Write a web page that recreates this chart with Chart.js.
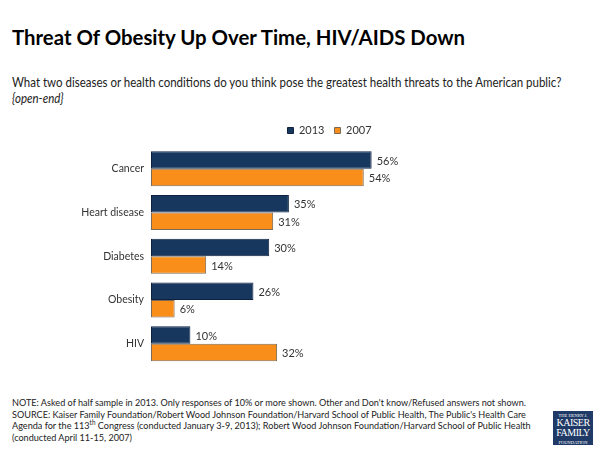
<!DOCTYPE html>
<html>
<head>
<meta charset="utf-8">
<script src="https://cdn.jsdelivr.net/npm/chart.js@4/dist/chart.umd.min.js"></script>
<style>
	body { margin: 0; width: 600px; height: 450px; background: #fff; position: relative; overflow: hidden;
		font-family: "Lato", sans-serif; color: #222; }
	#title { position: absolute; left: 12px; top: 24px; font-size: 21px; font-weight: bold; color: #000; white-space: nowrap;
		transform: scaleX(0.97); transform-origin: left top; }
	#sub { position: absolute; left: 12px; top: 75px; font-size: 12.5px; line-height: 16px; color: #222; white-space: nowrap;
		transform: scaleX(0.92); transform-origin: left top; }
	#note { position: absolute; left: 12px; top: 397px; font-size: 10px; line-height: 11.5px; color: #222; white-space: nowrap;
		transform: scaleX(0.91); transform-origin: left top; }
	#chartBox { position: absolute; left: 0; top: 115px; width: 600px; height: 264px; }
	#logo { position: absolute; left: 553px; top: 411px; width: 40px; height: 34px; background: #1f3a66; color: #fff;
		font-family: "Liberation Serif", serif; text-align: center; }
	#logo .s { font-size: 4.5px; line-height: 5px; padding-top: 2px; }
	#logo .b { font-size: 10px; line-height: 10px; letter-spacing: -0.5px; }
</style>
</head>
<body>
<div id="title">Threat Of Obesity Up Over Time, HIV/AIDS Down</div>
<div id="sub">What two diseases or health conditions do you think pose the greatest health threats to the American public?<br><i>{open-end}</i></div>
<div id="chartBox"><canvas id="myChart"></canvas></div>
<div id="note">NOTE: Asked of half sample in 2013. Only responses of 10% or more shown. Other and Don't know/Refused  answers not shown.<br>
SOURCE: Kaiser Family Foundation/Robert Wood Johnson Foundation/Harvard School of Public Health, The Public's Health Care<br>
Agenda for the 113<sup style="font-size:7px;line-height:0">th</sup> Congress (conducted January 3-9, 2013); Robert Wood Johnson Foundation/Harvard School of Public Health<br>
(conducted April 11-15, 2007)</div>
<div id="logo"><div class="s">THE HENRY J.</div><div class="b">KAISER</div><div class="b">FAMILY</div><div class="s">FOUNDATION</div></div>
<script>
const categories = ["Cancer", "Heart disease", "Diabetes", "Obesity", "HIV"];
const values2013 = [56, 35, 30, 26, 10];
const values2007 = [54, 31, 14, 6, 32];
const seriesNames = ["2013", "2007"];

const FONT = "Lato, sans-serif";

// value labels at the end of each bar
const barLabels = {
	id: "barLabels",
	afterDatasetsDraw(chart) {
		const ctx = chart.ctx;
		ctx.save();
		ctx.font = "11px " + FONT;
		ctx.fillStyle = "#333";
		ctx.textBaseline = "middle";
		chart.data.datasets.forEach((ds, i) => {
			chart.getDatasetMeta(i).data.forEach((bar, j) => {
				ctx.fillText(ds.data[j] + "%", bar.x + 5, bar.y + 1);
			});
		});
		ctx.restore();
	},
};

// a little room under the legend, and move it to the right
const legendTweak = {
	id: "legendTweak",
	beforeInit(chart) {
		const fit = chart.legend.fit;
		chart.legend.fit = function () {
			fit.bind(chart.legend)();
			this.height += 1;
		};
	},
	afterLayout(chart) {
		chart.legend.left += 114;
	},
};

new Chart("myChart", {
	type: "bar",
	data: {
		labels: categories,
		datasets: [
			{
				label: seriesNames[0],
				data: values2013,
				backgroundColor: "#17375e",
				borderColor: "#0e2240",
				borderWidth: 1,
				borderSkipped: false,
				categoryPercentage: 0.8,
				barPercentage: 1.0,
			},
			{
				label: seriesNames[1],
				data: values2007,
				backgroundColor: "#f98e1a",
				borderColor: "#7d6a55",
				borderWidth: 1,
				borderSkipped: false,
				categoryPercentage: 0.8,
				barPercentage: 1.0,
			},
		],
	},
	options: {
		indexAxis: "y",
		responsive: true,
		maintainAspectRatio: false,
		animation: false,
		layout: { padding: { left: 0, right: 55, top: 0, bottom: 5 } },
		plugins: {
			legend: {
				display: true,
				labels: {
					boxWidth: 6,
					boxHeight: 6,
					padding: 10,
					color: "#333",
					font: { family: FONT, size: 11 },
				},
			},
			tooltip: { enabled: false },
		},
		scales: {
			x: {
				min: 0,
				max: 100,
				display: false,
			},
			y: {
				grid: { display: false, drawTicks: false },
				border: { display: false },
				ticks: {
					color: "#333",
					padding: 7,
					font: { family: FONT, size: 10.5 },
				},
				afterFit(scale) {
					scale.width = 151;
				},
			},
		},
	},
	plugins: [barLabels, legendTweak],
});
</script>
</body>
</html>
